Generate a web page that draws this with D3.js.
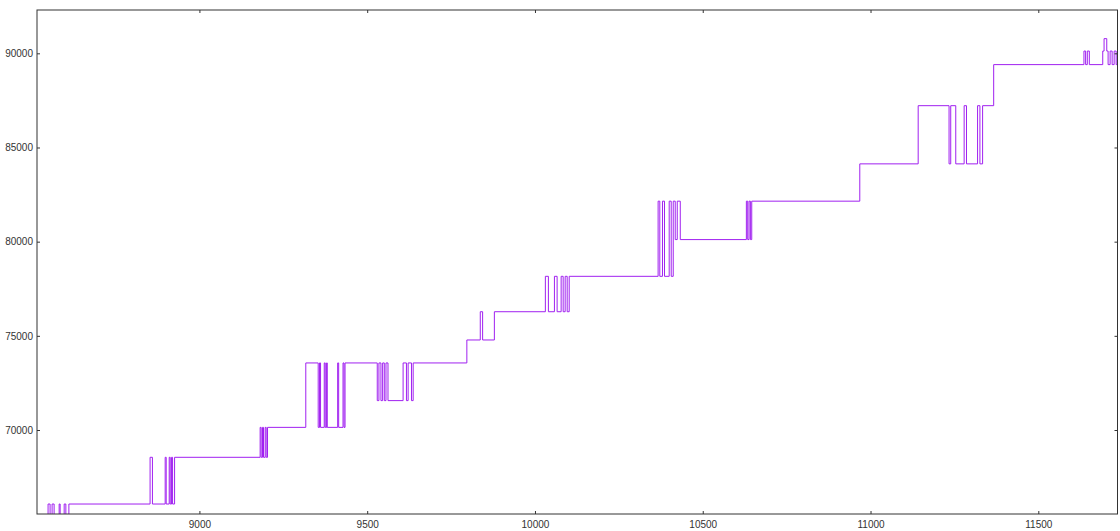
<!DOCTYPE html>
<html>
<head>
<meta charset="utf-8">
<script src="https://cdn.jsdelivr.net/npm/d3@7"></script>
<style>
  html, body { margin: 0; padding: 0; background: #fff; }
  svg { display: block; }
  .tick text { font-family: "Liberation Sans", Arial, sans-serif; font-size: 10px; fill: #333; }
</style>
</head>
<body>
<svg id="chart" width="1120" height="531"></svg>
<script>
// Value levels the series steps between
const LOW = 64800;
const L0 = 66070, L1 = 68550, L2 = 70140, L3 = 71560, L4 = 73560,
      L5 = 74780, L6 = 76280, L7 = 78160, L8 = 80110, L9 = 82150,
      L10 = 84130, L11 = 87220, L12 = 89400, L13 = 90120, L14 = 90780;

// Step positions (x) and the value that holds from each position onward
const stepX = [
  8500, 8549, 8555, 8561, 8567, 8582, 8585, 8597, 8602, 8611,
  8853, 8860, 8898, 8901, 8910, 8913, 8917, 8920, 8926,
  9181, 9184, 9188, 9191, 9196, 9199, 9203,
  9317, 9354, 9358, 9361, 9372, 9375, 9379, 9381, 9412, 9415, 9428, 9431, 9434,
  9530, 9535, 9541, 9546, 9551, 9556, 9562, 9607, 9617, 9622, 9632, 9637,
  9797, 9837, 9844, 9879,
  10031, 10040, 10058, 10066, 10078, 10084, 10090, 10096, 10102,
  10367, 10372, 10380, 10386, 10400, 10406, 10412, 10418, 10424, 10433,
  10630, 10634, 10638, 10642, 10646,
  10968, 11142,
  11234, 11239, 11254, 11279, 11286, 11319, 11326, 11334, 11367,
  11636, 11641, 11646, 11652, 11692, 11696, 11704, 11708, 11714, 11720, 11726, 11732, 11745
];
const stepY = [
  LOW, L0, LOW, L0, LOW, L0, LOW, L0, LOW, L0,
  L1, L0, L1, L0, L1, L0, L1, L0, L1,
  L2, L1, L2, L1, L2, L1, L2,
  L4, L2, L4, L2, L4, L2, L4, L2, L4, L2, L4, L2, L4,
  L3, L4, L3, L4, L3, L4, L3, L4, L3, L4, L3, L4,
  L5, L6, L5, L6,
  L7, L6, L7, L6, L7, L6, L7, L6, L7,
  L9, L7, L9, L7, L9, L7, L9, L8, L9, L8,
  L9, L8, L9, L8, L9,
  L10, L11,
  L10, L11, L10, L11, L10, L11, L10, L11, L12,
  L13, L12, L13, L12, L13, L14, L13, L12, L13, L12, L13, L12, L12
];

const xTicks = [9000, 9500, 10000, 10500, 11000, 11500];
const yTicks = [70000, 75000, 80000, 85000, 90000];

const xDomain = [8516, 11736];
const yDomain = [65540, 92300];

const svg = d3.select("#chart");
const plotLeft = 37, plotRight = 1117.5, plotTop = 10, plotBottom = 514;

const x = d3.scaleLinear().domain(xDomain).range([plotLeft, plotRight]);
const y = d3.scaleLinear().domain(yDomain).range([plotBottom, plotTop]);

const points = stepX.map((v, i) => [v, stepY[i]]);

svg.append("clipPath").attr("id", "plot-clip")
  .append("rect")
  .attr("x", plotLeft).attr("y", plotTop)
  .attr("width", plotRight - plotLeft).attr("height", plotBottom - plotTop);

// Series
const line = d3.line()
  .x(d => x(d[0]))
  .y(d => y(d[1]))
  .curve(d3.curveStepAfter);

svg.append("path")
  .datum(points)
  .attr("clip-path", "url(#plot-clip)")
  .attr("fill", "none")
  .attr("stroke", "#a020f0")
  .attr("stroke-width", 1)
  .attr("d", line);

// Axes with inward ticks on all four sides
function styleAxis(g) {
  g.select(".domain").remove();
  g.selectAll(".tick line").attr("stroke", "#333");
}

svg.append("g")
  .attr("transform", `translate(0,${plotBottom})`)
  .call(d3.axisBottom(x).tickValues(xTicks).tickSize(-3).tickSizeOuter(0).tickPadding(7).tickFormat(d3.format("d")))
  .call(styleAxis);

svg.append("g")
  .attr("transform", `translate(0,${plotTop})`)
  .call(d3.axisTop(x).tickValues(xTicks).tickSize(-3).tickSizeOuter(0).tickFormat(""))
  .call(styleAxis);

svg.append("g")
  .attr("transform", `translate(${plotLeft},0)`)
  .call(d3.axisLeft(y).tickValues(yTicks).tickSize(-3).tickSizeOuter(0).tickPadding(4).tickFormat(d3.format("d")))
  .call(styleAxis);

svg.append("g")
  .attr("transform", `translate(${plotRight},0)`)
  .call(d3.axisRight(y).tickValues(yTicks).tickSize(-3).tickSizeOuter(0).tickFormat(""))
  .call(styleAxis);

svg.selectAll(".tick text").attr("fill", "#333");

// Plot frame
svg.append("rect")
  .attr("x", plotLeft).attr("y", plotTop)
  .attr("width", plotRight - plotLeft).attr("height", plotBottom - plotTop)
  .attr("fill", "none")
  .attr("stroke", "#333")
  .attr("stroke-width", 1);
</script>
</body>
</html>
